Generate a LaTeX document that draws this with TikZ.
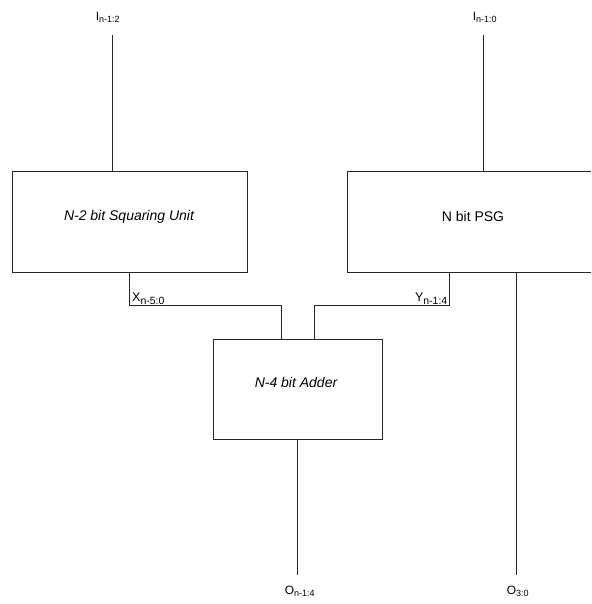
\documentclass[tikz,border=0pt]{standalone}
\usepackage{fontspec}
\setmainfont{Liberation Sans}
\begin{document}
\begin{tikzpicture}[x=1pt,y=-1pt,
  wire/.style={draw=black!85,line width=0.9pt},
  blockbox/.style={draw=black!85,line width=0.9pt,rectangle,inner sep=0pt},
  txt/.style={font=\fontsize{14}{16}\selectfont,inner sep=0pt},
  sig/.style={font=\fontsize{12}{14}\selectfont,inner sep=0pt},
  bigsig/.style={font=\fontsize{12.5}{14}\selectfont,inner sep=0pt}]
\useasboundingbox (0,0) rectangle (591,604);
\clip (0,0) rectangle (591,604);
% blocks
\node[blockbox,minimum width=235pt,minimum height=101pt] (sq) at (129.5,221.5) {};
\node[txt] (sqt) at (129,217) {\itshape N-2 bit Squaring Unit};
\node[blockbox,minimum width=293pt,minimum height=101pt] (psg) at (493.5,221.5) {};
\node[txt] (psgt) at (473,216) {N bit PSG};
\node[blockbox,minimum width=169pt,minimum height=100pt] (add) at (297.5,389) {};
\node[txt] (addt) at (296,382) {\itshape N-4 bit Adder};
% labels
\node[sig] (inA) at (108,17) {I\textsubscript{\fontsize{9}{10}\selectfont n-1:2}};
\node[sig] (inB) at (485,17) {I\textsubscript{\fontsize{9}{10}\selectfont n-1:0}};
\node[bigsig,anchor=south west] (xl) at (132,305) {X\textsubscript{\fontsize{10.5}{11}\selectfont n-5:0}};
\node[bigsig,anchor=south east] (yl) at (448,305) {Y\textsubscript{\fontsize{10.5}{11}\selectfont n-1:4}};
\node[sig] (outA) at (300,591) {O\textsubscript{\fontsize{9}{10}\selectfont n-1:4}};
\node[sig] (outB) at (518,591) {O\textsubscript{\fontsize{9}{10}\selectfont 3:0}};
% coordinates
\coordinate (ta) at (112,35);
\coordinate (tb) at (483,35);
\coordinate (xa) at (129,305);
\coordinate (xb) at (281,305);
\coordinate (ya) at (449,305);
\coordinate (yb) at (314,305);
\coordinate (oa) at (297,575);
\coordinate (ob) at (516,575);
% wires
\draw[wire] (ta) -- (ta |- sq.north);
\draw[wire] (tb) -- (tb |- psg.north);
\draw[wire] (xa |- sq.south) -- (xa) -- (xb) -- (xb |- add.north);
\draw[wire] (ya |- psg.south) -- (ya) -- (yb) -- (yb |- add.north);
\draw[wire] (oa |- add.south) -- (oa);
\draw[wire] (ob |- psg.south) -- (ob);
\end{tikzpicture}
\end{document}
